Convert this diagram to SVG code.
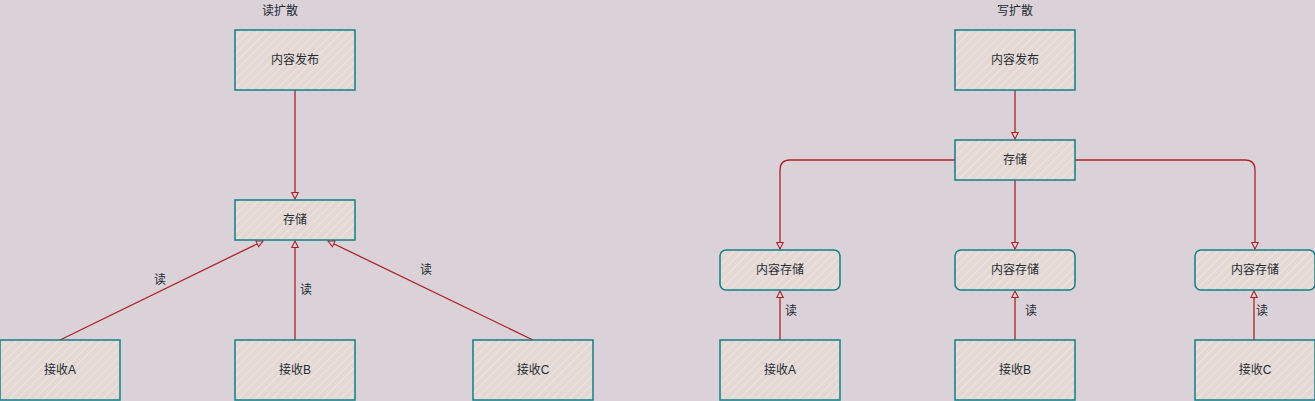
<svg xmlns="http://www.w3.org/2000/svg" width="1315" height="401" viewBox="0 0 1315 401">
<style>
.box{fill:url(#hatch);stroke:#0E8088;stroke-width:1.5}
.t{font-family:"Liberation Sans","Noto Sans CJK SC",sans-serif;font-size:12px;fill:#1f2d33;text-anchor:middle;dominant-baseline:central}
.e{fill:none;stroke:#B22222;stroke-width:1.3}
</style>
<defs>
<pattern id="hatch" patternUnits="userSpaceOnUse" width="6" height="6" patternTransform="rotate(45)">
<rect width="6" height="6" fill="#E3D8D5"/>
<line x1="0" y1="0" x2="0" y2="6" stroke="#EFE3DA" stroke-width="2.5"/>
</pattern>
<marker id="arr" viewBox="0 0 10 10" refX="9" refY="5" markerWidth="8" markerHeight="8" orient="auto" markerUnits="userSpaceOnUse">
<path d="M1,1 L9,5 L1,9 Z" fill="#DAD1D9" stroke="#B22222" stroke-width="1.3"/>
</marker>
</defs>
<rect width="1315" height="401" fill="#DAD1D9"/>
<text class="t" x="280" y="11">读扩散</text>
<text class="t" x="1015" y="11">写扩散</text>
<g id="connectors">
<path class="e" d="M295,90 L295,199" marker-end="url(#arr)"/>
<path class="e" d="M60,340 L263,241" marker-end="url(#arr)"/>
<path class="e" d="M295,340 L295,241" marker-end="url(#arr)"/>
<path class="e" d="M533,340 L328,241" marker-end="url(#arr)"/>
<text class="t" x="160" y="280">读</text>
<text class="t" x="306" y="290">读</text>
<text class="t" x="426" y="270">读</text>
<path class="e" d="M1015,90 L1015,139" marker-end="url(#arr)"/>
<path class="e" d="M955,160 L790,160 Q780,160 780,170 L780,249" marker-end="url(#arr)"/>
<path class="e" d="M1015,180 L1015,249" marker-end="url(#arr)"/>
<path class="e" d="M1075,160 L1245,160 Q1255,160 1255,170 L1255,249" marker-end="url(#arr)"/>
<path class="e" d="M780,340 L780,291" marker-end="url(#arr)"/>
<path class="e" d="M1015,340 L1015,291" marker-end="url(#arr)"/>
<path class="e" d="M1254,340 L1254,291" marker-end="url(#arr)"/>
<text class="t" x="791" y="311">读</text>
<text class="t" x="1031" y="311">读</text>
<text class="t" x="1262" y="311">读</text>
</g>
<g id="l_publish"><rect class="box" x="235" y="30" width="120" height="60"/><text class="t" x="295" y="60">内容发布</text></g>
<g id="l_store"><rect class="box" x="235" y="200" width="120" height="40"/><text class="t" x="295" y="220">存储</text></g>
<g id="l_recvA"><rect class="box" x="0" y="340" width="120" height="60"/><text class="t" x="60" y="370">接收A</text></g>
<g id="l_recvB"><rect class="box" x="235" y="340" width="120" height="60"/><text class="t" x="295" y="370">接收B</text></g>
<g id="l_recvC"><rect class="box" x="473" y="340" width="120" height="60"/><text class="t" x="533" y="370">接收C</text></g>
<g id="r_publish"><rect class="box" x="955" y="30" width="120" height="60"/><text class="t" x="1015" y="60">内容发布</text></g>
<g id="r_store"><rect class="box" x="955" y="140" width="120" height="40"/><text class="t" x="1015" y="160">存储</text></g>
<g id="r_cs1"><rect class="box" x="720" y="250" width="120" height="40" rx="6"/><text class="t" x="780" y="270">内容存储</text></g>
<g id="r_cs2"><rect class="box" x="955" y="250" width="120" height="40" rx="6"/><text class="t" x="1015" y="270">内容存储</text></g>
<g id="r_cs3"><rect class="box" x="1195" y="250" width="120" height="40" rx="6"/><text class="t" x="1255" y="270">内容存储</text></g>
<g id="r_recvA"><rect class="box" x="720" y="340" width="120" height="60"/><text class="t" x="780" y="370">接收A</text></g>
<g id="r_recvB"><rect class="box" x="955" y="340" width="120" height="60"/><text class="t" x="1015" y="370">接收B</text></g>
<g id="r_recvC"><rect class="box" x="1195" y="340" width="120" height="60"/><text class="t" x="1255" y="370">接收C</text></g>
</svg>
